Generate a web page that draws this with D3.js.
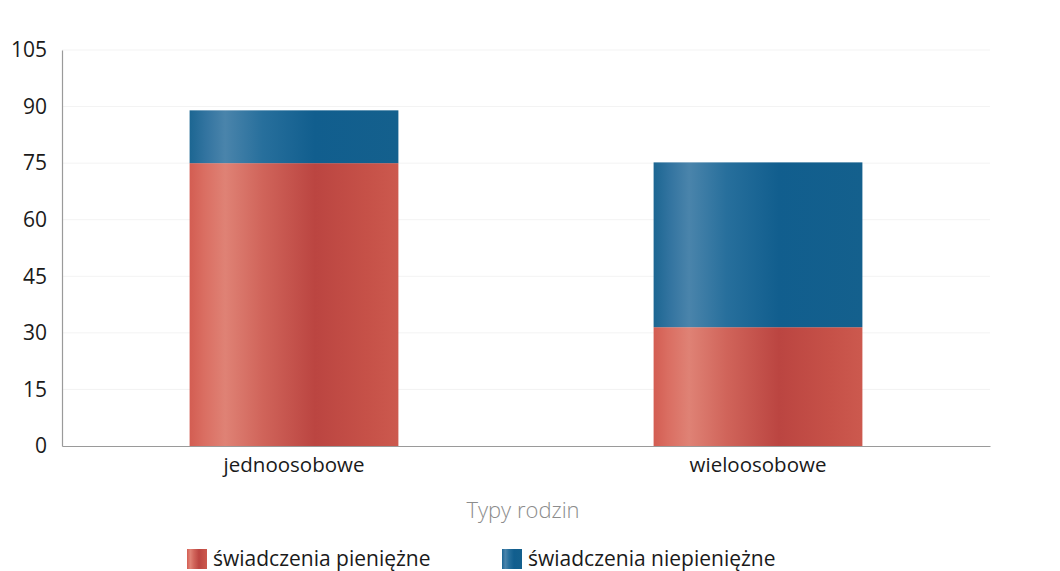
<!DOCTYPE html>
<html><head><meta charset="utf-8">
<script src="https://cdn.jsdelivr.net/npm/d3@7"></script>
<style>body{margin:0;background:#fff;} svg{display:block;font-family:"Open Sans","Noto Sans",sans-serif;}</style>
</head><body>
<svg id="c" width="1060" height="571"></svg>
<script>
const categories = ["jednoosobowe", "wieloosobowe"];
const seriesNames = ["świadczenia pieniężne", "świadczenia niepieniężne"];
const pieniezne = [75, 31.5];
const niepieniezne = [14, 43.7];
const yTicks = [0, 15, 30, 45, 60, 75, 90, 105];
const xTitle = "Typy rodzin";

const svg = d3.select("#c");
const m = {left: 62, right: 990, top: 50, bottom: 446};
const FONT = "'Open Sans','Noto Sans',sans-serif";

const defs = svg.append("defs");
function grad(id, stops) {
  const g = defs.append("linearGradient").attr("id", id).attr("x1", "0%").attr("x2", "100%").attr("y1", "0%").attr("y2", "0%");
  stops.forEach(s => g.append("stop").attr("offset", s[0]).attr("stop-color", s[1]));
}
grad("gRed", [["0%", "#d35d52"], ["7%", "#da6e62"], ["17%", "#df8275"], ["35%", "#d0645a"], ["60%", "#bb4541"], ["85%", "#c65148"], ["100%", "#cc594e"]]);
grad("gBlue", [["0%", "#1c6692"], ["8%", "#3374a0"], ["17%", "#4a84ab"], ["35%", "#276f9c"], ["60%", "#115e8e"], ["100%", "#14608d"]]);

const x = d3.scaleBand().domain(categories).range([m.left, m.right]).paddingInner(0.55).paddingOuter(0.275);
const y = d3.scaleLinear().domain([0, 105]).range([m.bottom, m.top]);

// faint grid
svg.append("g").selectAll("line").data(yTicks.slice(1)).join("line")
  .attr("x1", m.left).attr("x2", m.right).attr("y1", d => y(d)).attr("y2", d => y(d))
  .attr("stroke", "#f3f3f3").attr("stroke-width", 1);

const stackData = categories.map((c, i) => ({cat: c, p: pieniezne[i], n: niepieniezne[i]}));
const stack = d3.stack().keys(["p", "n"])(stackData);
const fills = ["url(#gRed)", "url(#gBlue)"];

svg.append("g").selectAll("g").data(stack).join("g")
  .attr("fill", (d, i) => fills[i])
  .selectAll("rect").data(d => d).join("rect")
  .attr("x", d => x(d.data.cat))
  .attr("width", x.bandwidth())
  .attr("y", d => y(d[1]))
  .attr("height", d => y(d[0]) - y(d[1]));

// y axis
const yAxis = svg.append("g").attr("transform", `translate(${m.left},0)`)
  .call(d3.axisLeft(y).tickValues(yTicks).tickSize(0).tickPadding(15));
yAxis.select(".domain").attr("stroke", "#9a9a9a").attr("stroke-width", 1.2);
yAxis.selectAll("text").attr("font-size", 21).attr("fill", "#1a1a1a").attr("font-family", FONT);

// x axis
const xAxis = svg.append("g").attr("transform", `translate(0,${m.bottom})`)
  .call(d3.axisBottom(x).tickSize(0).tickPadding(11));
xAxis.select(".domain").attr("stroke", "#9a9a9a").attr("stroke-width", 1.2);
xAxis.selectAll("text").attr("font-size", 20.5).attr("fill", "#1a1a1a").attr("font-family", FONT);

svg.append("text").attr("x", 523).attr("y", 518).attr("text-anchor", "middle")
  .attr("font-size", 22).attr("fill", "#8c8c8c").attr("font-weight", 300).attr("font-family", FONT).text(xTitle);

// legend
const legX = [187, 502];
const leg = svg.append("g").selectAll("g").data(seriesNames).join("g")
  .attr("transform", (d, i) => `translate(${legX[i]},549)`);
leg.append("rect").attr("width", 20).attr("height", 20).attr("fill", (d, i) => fills[i]);
leg.append("text").attr("x", 26).attr("y", 17).attr("font-size", 21).attr("fill", "#1a1a1a").attr("font-family", FONT).text(d => d);
</script>
</body></html>
